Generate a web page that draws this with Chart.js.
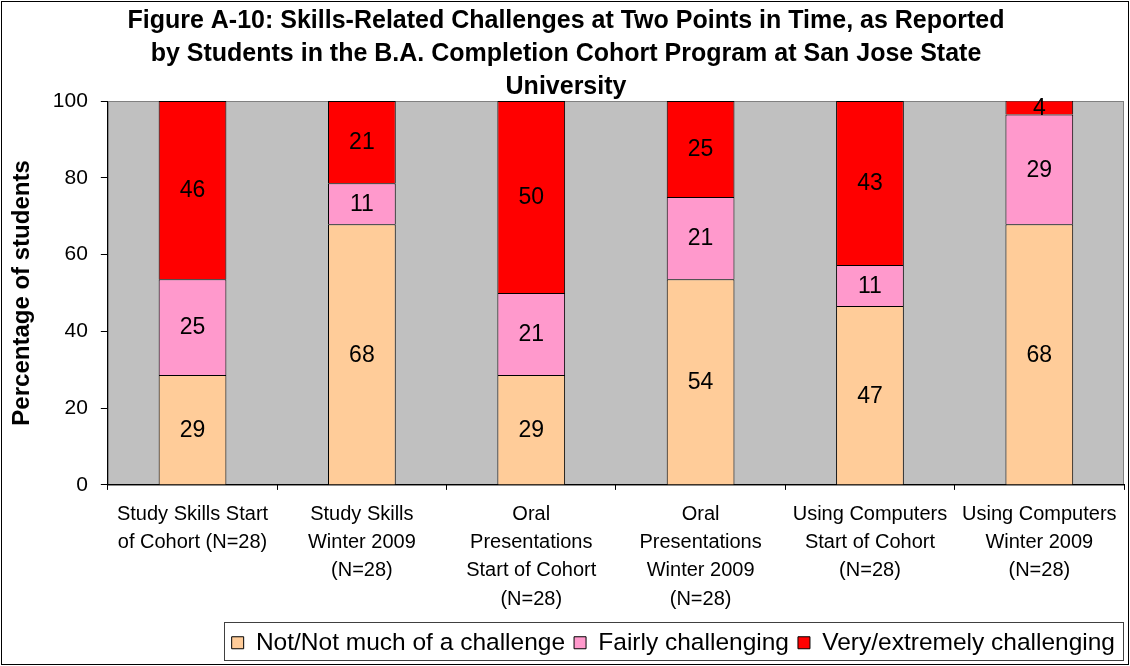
<!DOCTYPE html>
<html>
<head>
<meta charset="utf-8">
<script src="https://cdn.jsdelivr.net/npm/chart.js@4.4.1/dist/chart.umd.min.js"></script>
<style>
html,body{margin:0;padding:0;background:#fff;}
#wrap{width:1130px;height:666px;position:relative;}
</style>
</head>
<body>
<div id="wrap"><canvas id="c" width="1130" height="666"></canvas></div>
<script>
const titleLines = [
  "Figure A-10: Skills-Related Challenges at Two Points in Time, as Reported",
  "by Students in the B.A. Completion Cohort Program at San Jose State",
  "University"
];
const categories = [
  ["Study Skills Start", "of Cohort (N=28)"],
  ["Study Skills", "Winter 2009", "(N=28)"],
  ["Oral", "Presentations", "Start of Cohort", "(N=28)"],
  ["Oral", "Presentations", "Winter 2009", "(N=28)"],
  ["Using Computers", "Start of Cohort", "(N=28)"],
  ["Using Computers", "Winter 2009", "(N=28)"]
];
const seriesNames = ["Not/Not much of a challenge", "Fairly challenging", "Very/extremely challenging"];
const notChallenge = [28.6, 67.9, 28.6, 53.6, 46.6, 67.9];
const fairly = [25.0, 10.7, 21.4, 21.4, 10.7, 28.6];
const very = [46.4, 21.4, 50.0, 25.0, 42.7, 3.6];
const yTicks = [0, 20, 40, 60, 80, 100];
const yTitle = "Percentage of students";

const FONT = "'Liberation Sans', Arial, sans-serif";

const bgPlugin = {
  id: 'bg',
  beforeDraw(chart) {
    const {ctx, chartArea: a} = chart;
    ctx.save();
    ctx.fillStyle = '#ffffff';
    ctx.fillRect(0, 0, chart.width, chart.height);
    ctx.fillStyle = '#C0C0C0';
    ctx.fillRect(a.left, a.top, a.right - a.left, a.bottom - a.top);
    ctx.strokeStyle = '#808080';
    ctx.lineWidth = 1;
    ctx.strokeRect(a.left + 0.5, a.top + 0.5, a.right - a.left - 1, a.bottom - a.top);
    ctx.restore();
  },
  afterDraw(chart) {
    const ctx = chart.ctx;
    ctx.save();
    ctx.strokeStyle = '#000';
    ctx.lineWidth = 1;
    ctx.strokeRect(1.5, 1.5, chart.width - 3, chart.height - 3);
    const lg = chart.legend;
    if (lg && lg.legendHitBoxes && lg.legendHitBoxes.length) {
      const l = Math.round(lg.legendHitBoxes[0].left - 8);
      const t = Math.round(lg.top);
      ctx.strokeStyle = '#404040';
      ctx.strokeRect(l + 0.5, t + 0.5, Math.round(lg.right) - l - 1, 38);
    }
    ctx.restore();
  }
};

const labelPlugin = {
  id: 'vals',
  afterDatasetsDraw(chart) {
    const ctx = chart.ctx;
    ctx.save();
    ctx.font = "23px " + FONT;
    ctx.fillStyle = '#000';
    ctx.textAlign = 'center';
    ctx.textBaseline = 'middle';
    chart.data.datasets.forEach((ds, i) => {
      const meta = chart.getDatasetMeta(i);
      meta.data.forEach((el, j) => {
        const v = ds.data[j];
        const y = (el.y + el.base) / 2;
        ctx.fillText(String(Math.round(v)), el.x, y + 1);
      });
    });
    ctx.restore();
  }
};

new Chart(document.getElementById('c'), {
  type: 'bar',
  data: {
    labels: categories,
    datasets: [
      {label: seriesNames[0], data: notChallenge, backgroundColor: '#FFCC99', borderColor: '#000', borderWidth: 1},
      {label: seriesNames[1], data: fairly, backgroundColor: '#FF99CC', borderColor: '#000', borderWidth: 1},
      {label: seriesNames[2], data: very, backgroundColor: '#FF0000', borderColor: '#000', borderWidth: 1}
    ]
  },
  options: {
    responsive: false,
    animation: false,
    devicePixelRatio: 1,
    barPercentage: 0.4,
    categoryPercentage: 1.0,
    layout: {padding: {left: 8, right: 6, top: 3, bottom: 1}},
    plugins: {
      title: {
        display: true,
        text: titleLines,
        color: '#000',
        font: {family: FONT, size: 25, weight: 'bold', lineHeight: 1.32},
        padding: {top: 2, bottom: -3}
      },
      legend: {
        display: true,
        position: 'bottom',
        align: 'end',
        labels: {
          color: '#000',
          font: {family: FONT, size: 24.5},
          boxWidth: 12,
          boxHeight: 12,
          padding: 9,
          generateLabels(chart) {
            return chart.data.datasets.map((ds, i) => ({
              text: ds.label,
              fillStyle: ds.backgroundColor,
              strokeStyle: '#000',
              lineWidth: 1,
              datasetIndex: i,
              hidden: false
            }));
          }
        }
      },
      tooltip: {enabled: false}
    },
    scales: {
      x: {
        stacked: true,
        border: {display: true, color: '#000', width: 1},
        grid: {display: true, drawOnChartArea: false, drawTicks: true, tickLength: 5, color: '#000', offset: true},
        afterFit(scale) { scale.height -= 2; },
        ticks: {color: '#000', font: {family: FONT, size: 20, lineHeight: 1.42}, maxRotation: 0, autoSkip: false, padding: 10}
      },
      y: {
        stacked: true,
        min: 0,
        max: 100,
        border: {display: true, color: '#000', width: 1},
        grid: {display: true, drawOnChartArea: false, drawTicks: true, tickLength: 7, color: '#000'},
        afterBuildTicks(scale) { scale.ticks = yTicks.map(v => ({value: v})); },
        afterFit(scale) { scale.width -= 10; },
        ticks: {color: '#000', font: {family: FONT, size: 21}, padding: 13},
        title: {display: true, text: yTitle, color: '#000', font: {family: FONT, size: 24, weight: 'bold'}, padding: {top: 0, bottom: 13}}
      }
    }
  },
  plugins: [bgPlugin, labelPlugin]
});
</script>
</body>
</html>
